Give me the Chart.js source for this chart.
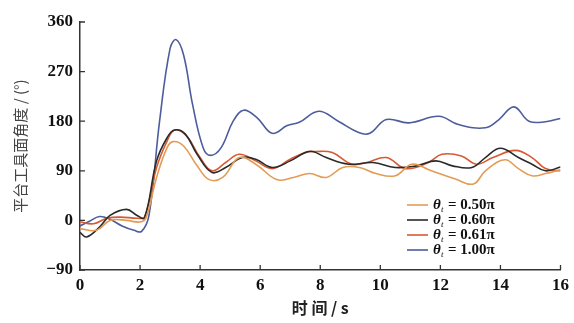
<!DOCTYPE html>
<html><head><meta charset="utf-8">
<script src="https://cdn.jsdelivr.net/npm/chart.js@4"></script>
<style>html,body{margin:0;padding:0;background:#fff}#wrap{position:relative;width:574px;height:323px}</style>
</head><body><div id="wrap"><canvas id="c" width="574" height="323"></canvas></div>
<script>
// Series data (time in s, angle in degrees)
const tBlue = [0,0.3,0.65,1.0,1.4,1.8,2.05,2.3,2.65,3.0,3.2,3.45,3.75,4.1,4.35,4.7,5.1,5.45,5.9,6.4,6.9,7.3,7.95,8.6,9.3,9.65,10.2,10.95,11.95,12.6,13.5,13.95,14.45,14.95,15.5,16];
const vBlue = [-10,-2,7,2,-10,-18,-20,10,180,312,328,300,210,132,118,132,180,200,186,158,172,178,198,180,159,158,183,177,189,174,168,183,206,180,179,185];
const tBlack = [0,0.22,0.65,1.0,1.55,1.9,2.15,2.55,2.9,3.15,3.5,3.9,4.4,4.85,5.4,5.85,6.4,7.0,7.5,7.75,8.2,8.95,9.75,10.5,11.2,11.85,12.4,13.05,13.5,14.0,14.6,15.05,15.5,16];
const vBlack = [-22,-30,-12,9,20,9,5,108,150,164,157,120,87,96,114,111,96,108,123,125,114,102,105,96,99,108,99,96,114,131,114,102,90,97];
const tRed = [0,0.45,0.9,1.35,1.9,2.15,2.55,2.9,3.15,3.55,4.0,4.4,4.85,5.3,5.85,6.4,7.0,7.5,7.85,8.4,9.05,9.55,10.2,10.85,11.6,12.05,12.7,13.2,13.75,14.5,15.05,15.5,16];
const vRed = [-3,-6,4,6,4,6,96,144,164,153,114,90,105,120,108,94,111,123,125,123,102,105,114,94,105,120,117,102,114,127,114,94,90];
const tTan = [0,0.55,1.0,1.55,2.0,2.2,2.55,2.9,3.1,3.45,3.9,4.3,4.75,5.3,5.85,6.55,7.1,7.65,8.2,8.75,9.3,9.85,10.5,11.05,11.7,12.5,13.1,13.5,14.15,14.6,15.05,15.5,16];
const vTan = [-15,-18,0,0,-3,5,78,132,143,135,99,74,78,114,102,74,78,85,78,96,96,85,81,102,90,75,66,90,110,94,81,85,92];
const legendLabels = ['0.50π','0.60π','0.61π','1.00π'];
const xTicks = [0,2,4,6,8,10,12,14,16];
const yTicks = [-90,0,90,180,270,360];

const cTan = '#e39c55', cBlack = '#2a2a2a', cRed = '#d65a33', cBlue = '#4d5c9c';
const pts = (t, v) => t.map((x, i) => ({x, y: v[i]}));
const ds = (t, v, c) => ({data: pts(t, v), borderColor: c, borderWidth: 1.6, pointRadius: 0, tension: 0.4, showLine: true, fill: false});

const serif = '"Liberation Serif","DejaVu Serif",serif';

const innerTicks = {
  id: 'innerTicks',
  afterDraw(chart) {
    const {ctx, chartArea: a, scales: {x, y}} = chart;
    ctx.save();
    ctx.strokeStyle = '#333'; ctx.lineWidth = 1.3;
    ctx.beginPath();
    xTicks.forEach(v => { const px = x.getPixelForValue(v); ctx.moveTo(px, a.bottom); ctx.lineTo(px, a.bottom - 5); });
    yTicks.forEach(v => { const py = y.getPixelForValue(v); ctx.moveTo(a.left, py); ctx.lineTo(a.left + 5, py); });
    ctx.stroke();
    // legend
    const colors = [cTan, cBlack, cRed, cBlue];
    const x0 = 407, y0 = 205, dy = 15;
    legendLabels.forEach((lab, i) => {
      const yy = y0 + i * dy;
      ctx.strokeStyle = colors[i]; ctx.lineWidth = 1.6;
      ctx.beginPath(); ctx.moveTo(x0, yy); ctx.lineTo(x0 + 21, yy); ctx.stroke();
      ctx.fillStyle = '#111'; ctx.textBaseline = 'middle'; ctx.textAlign = 'left';
      ctx.font = 'italic bold 15px ' + serif;
      ctx.fillText('θ', x0 + 26, yy);
      ctx.font = 'italic 9px ' + serif;
      ctx.fillText('t', x0 + 34, yy + 5);
      ctx.font = 'bold 15px ' + serif;
      ctx.fillText('= ' + lab, x0 + 41, yy);
    });
    ctx.restore();
  }
};

new Chart(document.getElementById('c'), {
  type: 'scatter',
  data: {datasets: [ds(tTan, vTan, cTan), ds(tBlack, vBlack, cBlack), ds(tRed, vRed, cRed), ds(tBlue, vBlue, cBlue)]},
  options: {
    responsive: false, animation: false,
    layout: {padding: {left: 0, right: 12, top: 22, bottom: 0}},
    plugins: {legend: {display: false}, tooltip: {enabled: false}},
    scales: {
      x: {
        type: 'linear', min: 0, max: 16,
        afterFit: s => { s.height = 53; },
        afterBuildTicks: s => { s.ticks = xTicks.map(v => ({value: v})); },
        grid: {display: false, drawTicks: false},
        border: {display: true, color: '#333', width: 1.5},
        ticks: {padding: 5, color: '#111', font: {family: serif, size: 17, weight: 'bold'}, maxRotation: 0},
        title: {display: true, text: '时 间 / s', color: '#222', padding: {top: 0, bottom: 5}, font: {family: '"Noto Sans CJK SC", sans-serif', size: 16, weight: 'bold'}}
      },
      y: {
        type: 'linear', min: -90, max: 360,
        afterFit: s => { s.width = 80; },
        afterBuildTicks: s => { s.ticks = yTicks.map(v => ({value: v})); },
        grid: {display: false, drawTicks: false},
        border: {display: true, color: '#333', width: 1.5},
        ticks: {padding: 7, color: '#111', font: {family: serif, size: 17, weight: 'bold'}, callback: v => v < 0 ? '−' + Math.abs(v) : String(v)},
        title: {display: true, text: '平台工具面角度 / (°)', color: '#444', padding: {top: 11, bottom: 0}, font: {family: '"Noto Sans CJK SC", sans-serif', size: 15}}
      }
    }
  },
  plugins: [innerTicks]
});
</script></body></html>
